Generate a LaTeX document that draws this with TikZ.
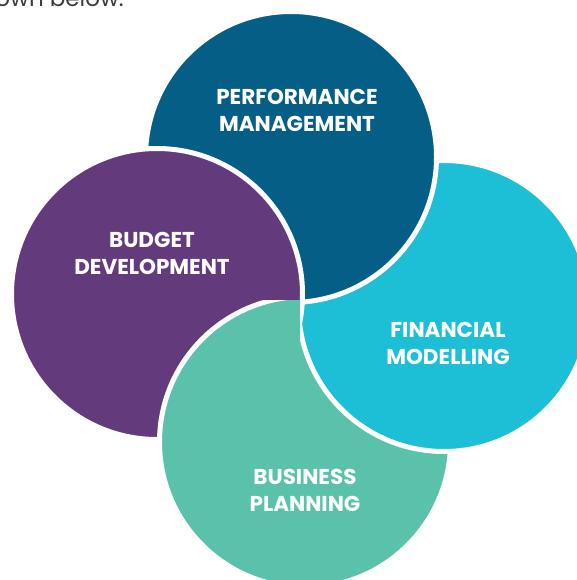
\documentclass[tikz,border=0pt]{standalone}
\usepackage{fontspec}
\setmainfont{Poppins}
\usepackage{tikz}
\usetikzlibrary{positioning}
\definecolor{pmblue}{HTML}{055E86}
\definecolor{bdpurple}{HTML}{633B7C}
\definecolor{fmcyan}{HTML}{1CBFD6}
\definecolor{bpgreen}{HTML}{5AC2AA}
\definecolor{introgray}{HTML}{3C3C3C}
\tikzset{disc/.style={draw=white, line width=5pt}}
\tikzset{lbl/.style={text=white, align=center, font=\bfseries\fontsize{21.5}{27}\selectfont}}

\begin{document}
\begin{tikzpicture}[x=1pt,y=-1pt] % pinwheel of four circles
	\useasboundingbox (0,0) rectangle (576,580);
	\coordinate (pm) at (291,157);
	\coordinate (bd) at (157,294);
	\coordinate (fm) at (444,306);
	\coordinate (bp) at (305,442);
	\node[anchor=base east, text=introgray, font=\fontsize{23}{26}\selectfont, inner sep=0pt] (intro) at (124,7) {shown below.};
	\draw[disc, fill=bpgreen] (bp) circle (145.5);
	\draw[disc, fill=fmcyan] (fm) circle (145.5);
	\draw[disc, fill=pmblue] (pm) circle (145.5);
	\draw[disc, fill=bdpurple] (bd) circle (145.5);
	\begin{scope}
		\clip (0,300) rectangle (300,580);
		\draw[disc, fill=bpgreen] (bp) circle (145.5);
	\end{scope}
	\node[lbl] (pmtext) at (297,110.5) {PERFORMANCE\\MANAGEMENT};
	\node[lbl] (bdtext) at (152,253) {BUDGET\\DEVELOPMENT};
	\node[lbl] (fmtext) at (448,343) {FINANCIAL\\MODELLING};
	\node[lbl] (bptext) at (305,490.5) {BUSINESS\\PLANNING};
\end{tikzpicture}
\end{document}
